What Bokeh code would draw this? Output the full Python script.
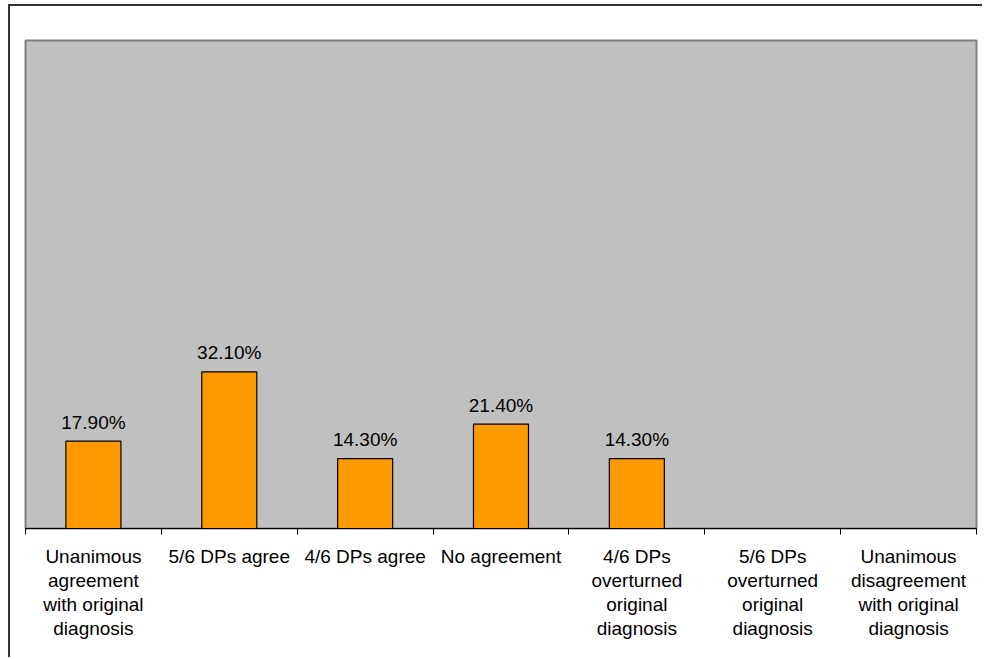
from bokeh.plotting import figure
from bokeh.models import Range1d, FixedTicker, ColumnDataSource
from bokeh.core.properties import value
from bokeh.embed import file_html
from bokeh.resources import INLINE

categories = [
    "Unanimous\nagreement\nwith original\ndiagnosis",
    "5/6 DPs agree",
    "4/6 DPs agree",
    "No agreement",
    "4/6 DPs\noverturned\noriginal\ndiagnosis",
    "5/6 DPs\noverturned\noriginal\ndiagnosis",
    "Unanimous\ndisagreement\nwith original\ndiagnosis",
]
percentages = [17.9, 32.1, 14.3, 21.4, 14.3, 0.0, 0.0]

FONT = "Liberation Sans"

n = len(categories)
centers = [i + 0.5 for i in range(n)]

p = figure(width=974, height=653, output_backend="svg", toolbar_location=None,
           x_range=Range1d(0, n), y_range=Range1d(0, 100),
           min_border_left=15, min_border_top=34, min_border_right=8,
           min_border_bottom=131)
p.styles = {"margin-left": "8px", "margin-top": "4px",
            "border-top": "2px solid #333333",
            "border-left": "2px solid #333333"}
p.background_fill_color = "#C0C0C0"
p.border_fill_color = "white"
p.outline_line_color = "#808080"
p.outline_line_width = 2
p.grid.visible = False
p.yaxis.visible = False

src = ColumnDataSource(dict(x=centers, top=percentages))
p.vbar(x="x", top="top", width=0.405, source=src, fill_color="#FF9900",
       line_color="#000000", line_width=1.2)

lab_x = [c for c, v in zip(centers, percentages) if v > 0]
lab_y = [v for v in percentages if v > 0]
lab_t = ["%.2f%%" % v for v in percentages if v > 0]
p.text(x=lab_x, y=lab_y, text=lab_t, text_align="center",
       text_baseline="alphabetic", y_offset=-19, text_font=value(FONT),
       text_font_size="19px", text_color="#000000")

ax = p.xaxis[0]
ax.ticker = FixedTicker(ticks=centers, minor_ticks=list(range(n + 1)))
ax.major_label_overrides = {c: lab for c, lab in zip(centers, categories)}
ax.major_tick_out = 0
ax.major_tick_in = 0
ax.minor_tick_out = 6
ax.minor_tick_in = 0
ax.minor_tick_line_color = "#000000"
ax.axis_line_color = "#000000"
ax.axis_line_width = 1
ax.major_label_standoff = 11
ax.major_label_text_font = FONT
ax.major_label_text_font_size = "19px"
ax.major_label_text_color = "#000000"
ax.major_label_text_align = "center"
ax.major_label_text_line_height = 1.15

open("out.html", "w").write(file_html(p, INLINE))
